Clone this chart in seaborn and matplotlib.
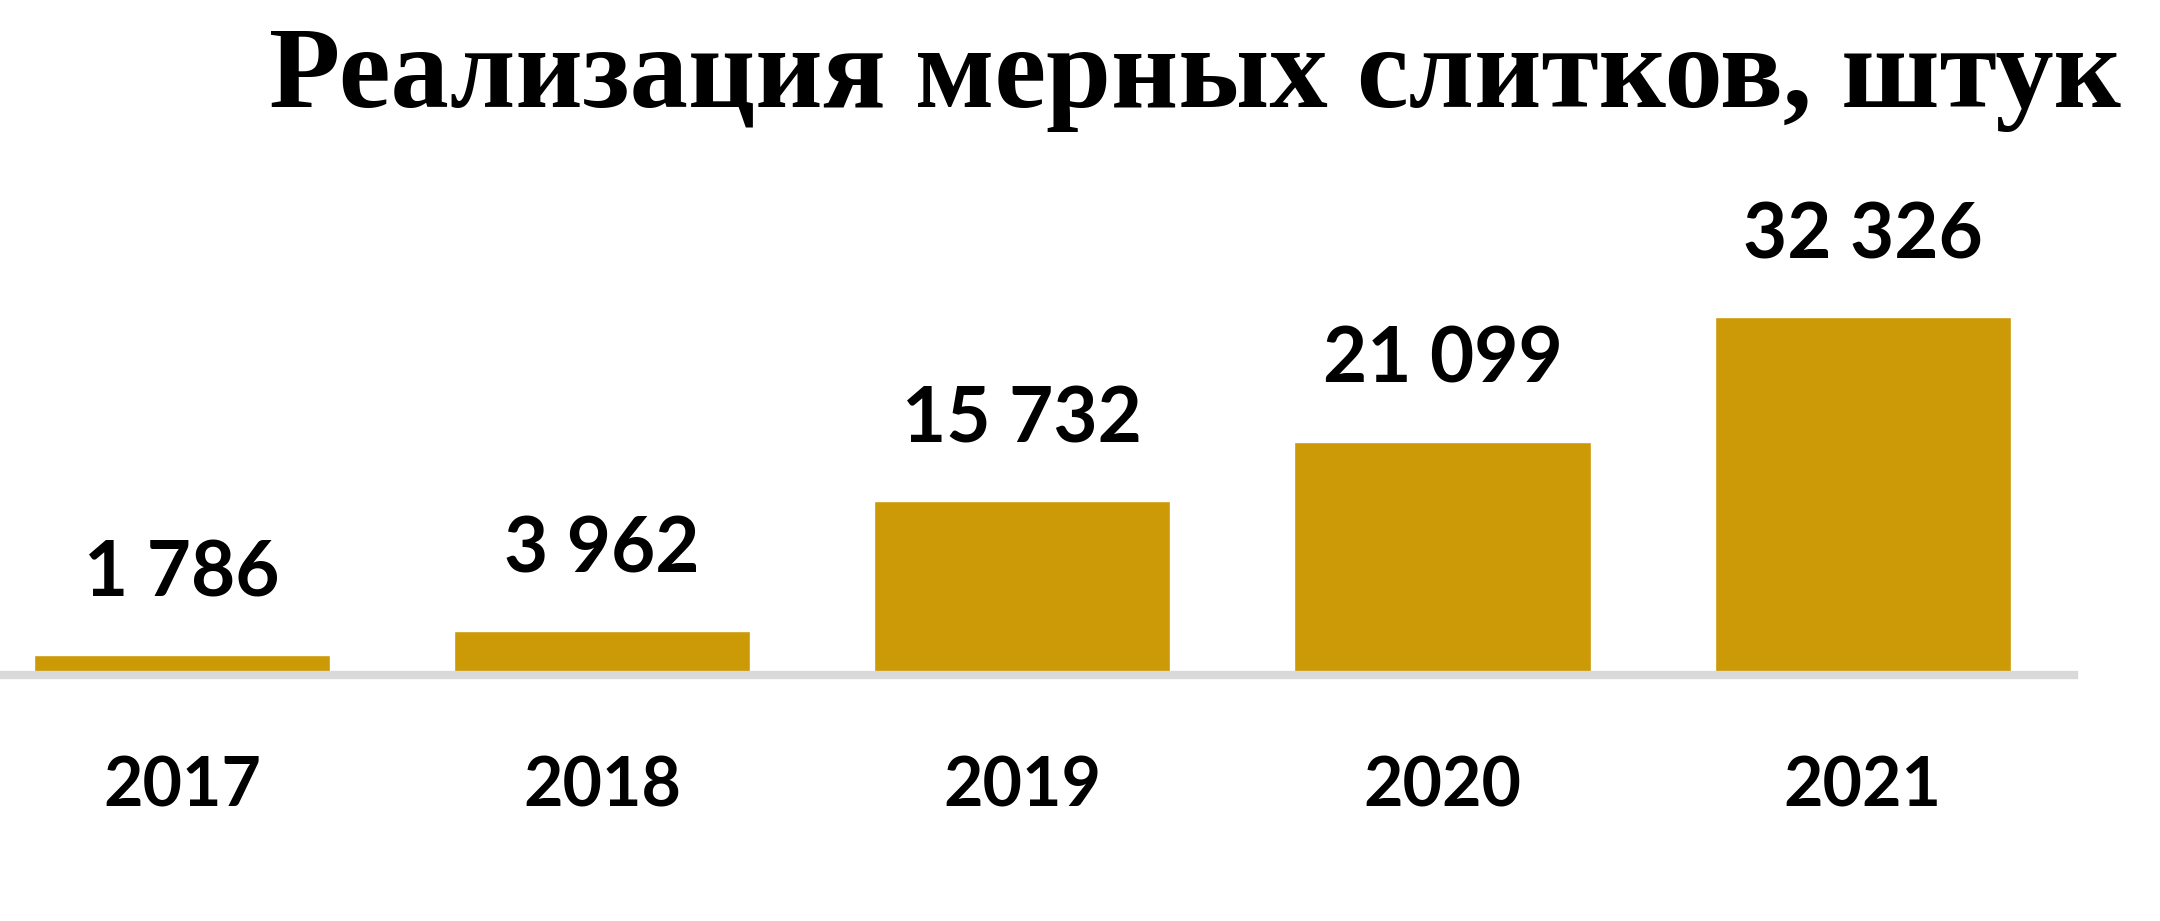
import pandas as pd
import seaborn as sns
import matplotlib.pyplot as plt

YEARS = ["2017", "2018", "2019", "2020", "2021"]
SOLD = [1786, 3962, 15732, 21099, 32326]
TITLE = "Реализация мерных слитков, штук"

df = pd.DataFrame({"Год": YEARS, "Штук": SOLD})

sns.set_theme(style="white")
plt.rcParams["font.family"] = ["Lato", "DejaVu Sans"]
plt.rcParams["text.color"] = "black"
plt.rcParams["xtick.color"] = "black"

fig = plt.figure(figsize=(21.6, 9.21), dpi=100)
ax = fig.add_axes([0, 0.267, 0.96, 0.733])

sns.barplot(data=df, x="Год", y="Штук", color="#cc9a06", saturation=1,
            width=0.705, ax=ax)

ax.set_xlim(-0.433, 4.502)
ax.set_ylim(0, 61000)
ax.set_xlabel("")
ax.set_ylabel("")
ax.set_yticks([])
sns.despine(ax=ax, left=True, top=True, right=True)
ax.spines["bottom"].set_color("#d9d9d9")
ax.spines["bottom"].set_linewidth(6)
ax.tick_params(axis="x", length=0, pad=58, labelsize=49, labelcolor="black")
for lbl in ax.get_xticklabels():
    lbl.set_fontweight("bold")

labels = [f"{v:,}".replace(",", " ") for v in SOLD]
ax.bar_label(ax.containers[0], labels=labels, padding=33, fontsize=55,
             fontweight="bold", color="black")

fig.text(0.982, 0.884, TITLE, ha="right", va="baseline", fontsize=84,
         fontweight="bold", color="black",
         family=["Liberation Serif", "DejaVu Serif"])

fig.savefig("out.png", dpi=100)
